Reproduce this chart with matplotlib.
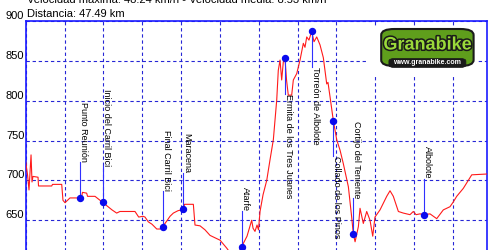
import matplotlib.pyplot as plt
import matplotlib.patheffects as pe
from matplotlib.patches import FancyBboxPatch
import numpy as np

plt.rcParams['font.family'] = ['Liberation Sans', 'DejaVu Sans']

# perfil: distancia (km) y altitud (m)
dist = [0.00, 0.19, 0.34, 0.55, 0.65, 0.75, 1.27, 1.32, 2.68, 2.76, 3.71, 3.84, 4.05, 4.56,
        5.59, 5.75, 5.85, 6.28, 6.37, 7.14, 7.66, 7.93, 8.38, 8.89, 9.37, 9.71, 11.26, 11.64,
        12.08, 12.29, 12.63, 13.01, 13.50, 13.84, 14.11, 14.53, 14.87, 15.21, 15.69, 16.07,
        16.24, 16.36, 17.27, 17.44, 17.96, 18.47, 18.99, 19.50, 20.02, 20.71, 21.25, 21.87,
        22.25, 22.42, 22.80, 23.28, 23.42, 23.62, 23.83, 23.98, 24.14, 24.45, 24.83, 25.17,
        25.51, 25.86, 26.02, 26.20, 26.37, 26.54, 26.71, 26.87, 27.05, 27.40, 27.57, 27.92,
        28.26, 28.60, 28.77, 28.95, 29.18, 29.46, 29.70, 29.98, 30.32, 30.66, 31.01, 31.14,
        31.35, 31.69, 32.04, 32.38, 32.72, 33.24, 33.58, 33.75, 33.93, 34.27, 34.44, 34.78,
        35.13, 35.47, 35.75, 35.98, 36.50, 37.19, 37.53, 37.87, 38.39, 38.90, 39.59, 39.93,
        40.21, 40.62, 41.03, 41.65, 42.34, 43.02, 43.71, 44.05, 44.40, 44.74, 45.08, 45.95,
        47.49]
alt = [723, 707, 688, 732, 698, 705, 704, 693, 693, 695, 695, 675, 672, 678,
       678, 679, 685, 684, 680, 680, 675, 673, 668, 663, 659, 661, 661, 654,
       655, 654, 648, 645, 639, 639, 642, 649, 655, 659, 662, 663,
       664, 670, 670, 644, 643, 638, 631, 628, 625, 615, 606, 609,
       616, 621, 630, 650, 640, 636, 644, 638, 661, 682, 700, 726,
       751, 801, 838, 851, 826, 849, 853, 826, 807, 807, 826, 834,
       851, 872, 867, 880, 876, 887, 874, 880, 870, 854, 821, 823,
       805, 775, 751, 738, 721, 692, 654, 633, 623, 642, 665, 646,
       661, 650, 630, 654, 663, 680, 687, 680, 661, 659, 657, 661,
       657, 658, 657, 658, 652, 663, 667, 673, 680, 685, 690, 707,
       708]

# puntos de paso
wp_dist = [5.59, 7.93, 14.11, 16.24, 22.25, 26.71, 29.46, 31.69, 33.75, 41.03]
wp_alt = [678, 673, 642, 664, 616, 853, 887, 775, 633, 657]
wp_name = ['Punto Reunión', 'Inicio del Carril Bici', 'Final Carril Bici', 'Maracena',
           'Atarfe', 'Ermita de los Tres Juanes', 'Torreón de Albolote',
           'Collado de los Pinos', 'Cortijo del Teniente', 'Albolote']
wp_up = [True, True, True, True, True, False, False, False, True, True]

fig = plt.figure(figsize=(5, 2.5), dpi=100)
ax = fig.add_axes([25.7 / 500, 1 - 260.1 / 250, 461 / 500, 239.1 / 250])
ax.set_xlim(0, 47.49)
ax.set_ylim(600, 900)

ax.set_xticks(np.arange(0, 48, 4))
ax.set_yticks(np.arange(600, 901, 50))
ax.set_yticklabels([''] + [str(v) for v in range(650, 901, 50)])
ax.tick_params(length=0, labelbottom=False, labelsize=8, pad=1)
for t in ax.get_yticklabels():
    t.set_va('bottom')
ax.grid(True, color='#2626d6', linestyle=(0, (3, 2.5)), lw=0.8)
for s in ['left', 'top', 'right']:
    ax.spines[s].set_color('#1a1aff')
    ax.spines[s].set_linewidth(1.2)
ax.spines['bottom'].set_visible(False)

ax.plot(dist, alt, color='#ff1a1a', lw=0.8, zorder=3)

stem = 45
for d, a, name, up in zip(wp_dist, wp_alt, wp_name, wp_up):
    end = a + stem if up else a - stem
    ax.plot([d, d], [a, end], color='#3030ff', lw=0.8, zorder=4)
    ax.plot(d, a, 'o', color='#0a0aee', ms=4.3, zorder=5)
    ax.text(d - 0.1, end, name, rotation=-90, fontsize=6.5, ha='left',
            va='bottom' if up else 'top', zorder=6)

fig.text(27 / 500, 1 - 0 / 250, 'Velocidad máxima: 48.24 km/h - Velocidad media: 8.53 km/h',
         fontsize=8, ha='left', va='center')
fig.text(27 / 500, 1 - 14 / 250, 'Distancia: 47.49 km', fontsize=8, ha='left', va='center')

# logo
lg = fig.add_axes([368 / 500, 1 - 77 / 250, 110 / 500, 50 / 250])
lg.set_xlim(0, 1)
lg.set_ylim(0, 1)
lg.axis('off')
lg.add_patch(plt.Rectangle((0, 0), 1, 1, color='white', transform=lg.transAxes))
lg.add_patch(FancyBboxPatch((0.14, 0.24), 0.8, 0.7, boxstyle='round,pad=0.02,rounding_size=0.12',
                            fc='#5f9e1c', ec='#1a1a1a', lw=1.5))
lg.add_patch(FancyBboxPatch((0.2, 0.2), 0.68, 0.16, boxstyle='round,pad=0.01,rounding_size=0.05',
                            fc='#1a1a1a', ec='#1a1a1a', lw=0.5))
lg.text(0.54, 0.64, 'Granabike', fontsize=13, fontweight='bold', color='#9ad93a',
        ha='center', va='center', family=['Liberation Sans Narrow', 'Liberation Sans'],
        path_effects=[pe.withStroke(linewidth=2.2, foreground='#1a1a1a')])
lg.text(0.54, 0.28, 'www.granabike.com', fontsize=5, fontweight='bold', color='white',
        ha='center', va='center')

fig.savefig('out.png', dpi=100)
